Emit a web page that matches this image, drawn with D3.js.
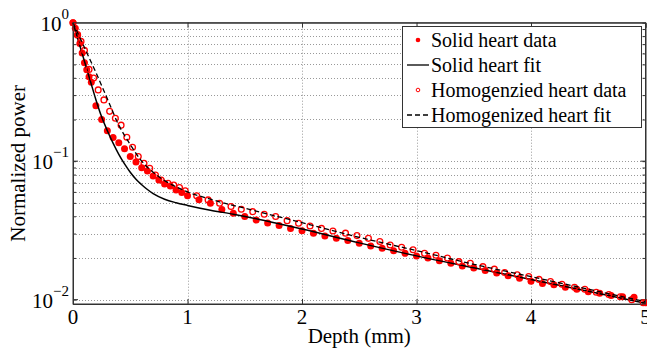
<!DOCTYPE html>
<html>
<head>
<meta charset="utf-8">
<script src="https://cdn.jsdelivr.net/npm/d3@7"></script>
<style>
  body { margin: 0; background: #fff; }
  text { font-family: "Liberation Serif", "Times New Roman", serif; fill: #000; }
</style>
</head>
<body>
<svg id="chart"></svg>
<script>
// solid heart measurements
const solidX = [0, 0.02, 0.04, 0.06, 0.08, 0.10, 0.12, 0.14, 0.16, 0.20, 0.25, 0.30, 0.35, 0.40, 0.45, 0.50,
  0.55, 0.60, 0.65, 0.70, 0.75, 0.80, 0.85, 0.90, 0.95, 1.0, 1.1, 1.2, 1.3, 1.4, 1.5, 1.6, 1.7, 1.8, 1.9,
  2.0, 2.1, 2.2, 2.3, 2.4, 2.5, 2.6, 2.7, 2.8, 2.9, 3.0, 3.1, 3.2, 3.3, 3.4, 3.5, 3.6, 3.7, 3.8, 3.9,
  4.0, 4.1, 4.2, 4.3, 4.4, 4.5, 4.6, 4.7, 4.8, 4.9, 5.0];
const solidY = [1, 0.912, 0.813, 0.708, 0.603, 0.513, 0.457, 0.407, 0.372, 0.251, 0.200, 0.166, 0.148, 0.136, 0.123, 0.108,
  0.0986, 0.0897, 0.0849, 0.0782, 0.0731, 0.0684, 0.0661, 0.0619, 0.0593, 0.0562, 0.0527, 0.0497, 0.0447, 0.0421, 0.0398, 0.0376, 0.0358, 0.0343, 0.0327,
  0.0315, 0.0301, 0.0288, 0.0277, 0.0267, 0.0255, 0.0244, 0.0235, 0.0225, 0.0216, 0.0207, 0.0200, 0.0191, 0.0183, 0.0175, 0.0169, 0.0162, 0.0156, 0.0149, 0.0143,
  0.0136, 0.0131, 0.0128, 0.0123, 0.0119, 0.0114, 0.0111, 0.0107, 0.0105, 0.0104, 0.0095];

// homogenized heart measurements
const homX = [0, 0.04, 0.07, 0.10, 0.14, 0.18, 0.22, 0.27, 0.32, 0.37, 0.42, 0.47, 0.52, 0.57, 0.62, 0.67, 0.72, 0.77, 0.83, 0.88, 0.93, 0.98,
  1.08, 1.18, 1.28, 1.38, 1.47, 1.57, 1.67, 1.77, 1.87, 1.97, 2.07, 2.17, 2.27, 2.38, 2.48, 2.58, 2.68, 2.77, 2.87, 2.97,
  3.07, 3.17, 3.27, 3.37, 3.47, 3.58, 3.68, 3.77, 3.88, 3.98, 4.07, 4.17, 4.27, 4.38, 4.47, 4.57, 4.68, 4.78, 4.88, 4.98];
const homY = [1, 0.822, 0.733, 0.631, 0.46, 0.398, 0.327, 0.277, 0.229, 0.204, 0.182, 0.149, 0.126, 0.108, 0.0966, 0.0889, 0.0794, 0.0731, 0.0692, 0.0673, 0.0646, 0.0612,
  0.0562, 0.0525, 0.0497, 0.0470, 0.0450, 0.0432, 0.0414, 0.0398, 0.0372, 0.0356, 0.0340, 0.0327, 0.0313, 0.0302, 0.0290, 0.0277, 0.0263, 0.0248, 0.0239, 0.0229,
  0.0216, 0.0209, 0.0200, 0.0188, 0.0183, 0.0173, 0.0166, 0.0157, 0.0151, 0.0147, 0.0140, 0.0135, 0.0129, 0.0123, 0.0119, 0.0113, 0.0109, 0.0105, 0.0100, 0.0095];

// fitted curves
const solidFitX = [0, 0.05, 0.1, 0.15, 0.2, 0.25, 0.3, 0.35, 0.4, 0.45, 0.5, 0.55, 0.6, 0.65, 0.7, 0.8, 0.9, 1.0, 1.2, 1.4, 1.6, 1.8, 2.0, 2.5, 3.0, 3.5, 4.0, 4.5, 5.0];
const solidFitY = [1, 0.726, 0.527, 0.383, 0.278, 0.209, 0.166, 0.135, 0.112, 0.0955, 0.0832, 0.0741, 0.0676, 0.0624, 0.0582, 0.0531, 0.0501, 0.0479, 0.0442, 0.0414, 0.0384, 0.0353, 0.0324, 0.0257, 0.0207, 0.0170, 0.0140, 0.0115, 0.0094];
const homFitX = [0, 0.1, 0.2, 0.3, 0.4, 0.5, 0.6, 0.7, 0.8, 0.9, 1.0, 1.2, 1.5, 2.0, 2.5, 3.0, 3.5, 4.0, 4.5, 5.0];
const homFitY = [1, 0.661, 0.437, 0.282, 0.182, 0.132, 0.100, 0.0832, 0.0724, 0.0653, 0.0600, 0.0531, 0.0457, 0.0360, 0.0282, 0.0226, 0.0180, 0.01466, 0.0119, 0.00966];

const xTicks = [0, 1, 2, 3, 4, 5];
const yDecades = [1, 0.1, 0.01];
const yExponents = ["0", "\u22121", "\u22122"];
const legendLabels = ["Solid heart data", "Solid heart fit", "Homogenzied heart data", "Homogenized heart fit"];

const width = 647, height = 352;
const plotL = 73, plotR = 645.5, plotT = 22.7, plotB = 304;

const svg = d3.select("#chart").attr("width", width).attr("height", height);

const x = d3.scaleLinear().domain([0, 5]).range([plotL, plotR]);
const y = d3.scaleLog().domain([0.0093, 1]).range([plotB, plotT]);

// grid
const minorVals = [];
[0.01, 0.1].forEach(d => { for (let k = 1; k <= 9; k++) minorVals.push(d * k); });
const grid = svg.append("g").attr("stroke", "#999").attr("stroke-width", 1).attr("stroke-dasharray", "1,2");
grid.selectAll(".hg").data(minorVals.filter(v => v >= 0.0093 && v < 1)).join("line")
  .attr("x1", plotL).attr("x2", plotR)
  .attr("y1", d => Math.round(y(d)) + 0.5).attr("y2", d => Math.round(y(d)) + 0.5);
grid.selectAll(".vg").data(xTicks.slice(1, -1)).join("line")
  .attr("y1", plotT).attr("y2", plotB)
  .attr("x1", d => Math.round(x(d)) + 0.5).attr("x2", d => Math.round(x(d)) + 0.5);

// axes with inward ticks
const axisColor = "#333";
const yTickVals = minorVals.filter(v => v >= 0.0093);
const xAxisB = d3.axisBottom(x).tickValues(xTicks).tickSize(-5).tickFormat("");
const xAxisT = d3.axisTop(x).tickValues(xTicks).tickSize(-5).tickFormat("");
const yAxisL = d3.axisLeft(y).tickValues(yTickVals).tickSize(-3).tickFormat("");
const yAxisR = d3.axisRight(y).tickValues(yTickVals).tickSize(-3).tickFormat("");
[[xAxisB, `translate(0,${plotB})`], [xAxisT, `translate(0,${plotT})`], [yAxisL, `translate(${plotL},0)`], [yAxisR, `translate(${plotR},0)`]]
  .forEach(([ax, tr]) => {
    const g = svg.append("g").attr("transform", tr).call(ax);
    g.selectAll("path, line").attr("stroke", axisColor);
  });
// longer ticks on decades
svg.append("g").selectAll("line").data(yDecades.slice(1)).join("line")
  .attr("x1", plotL).attr("x2", plotL + 5).attr("y1", d => y(d)).attr("y2", d => y(d)).attr("stroke", axisColor);
svg.append("g").selectAll("line").data(yDecades.slice(1)).join("line")
  .attr("x1", plotR - 5).attr("x2", plotR).attr("y1", d => y(d)).attr("y2", d => y(d)).attr("stroke", axisColor);

// tick labels (the last one runs off the right edge, as in the original)
svg.append("g").selectAll("text").data(xTicks).join("text")
  .attr("x", d => x(d)).attr("y", plotB + 20)
  .attr("text-anchor", "middle").attr("font-size", 21).text(d => d);

const yl = svg.append("g").selectAll("text").data(yDecades).join("text")
  .attr("x", 69).attr("y", d => y(d) + 8)
  .attr("text-anchor", "end").attr("font-size", 21);
yl.append("tspan").text("10");
yl.append("tspan").attr("dy", -12).attr("font-size", 15).text((d, i) => yExponents[i]);

svg.append("text").attr("x", (plotL + plotR) / 2).attr("y", 343)
  .attr("text-anchor", "middle").attr("font-size", 21).text("Depth (mm)");
svg.append("text").attr("transform", `translate(25,${(plotT + plotB) / 2}) rotate(-90)`)
  .attr("text-anchor", "middle").attr("font-size", 21).text("Normalized power");

// data and fits
const solidPts = solidX.map((v, i) => [v, solidY[i]]);
const homPts = homX.map((v, i) => [v, homY[i]]);
const solidFit = solidFitX.map((v, i) => [v, solidFitY[i]]);
const homFit = homFitX.map((v, i) => [v, homFitY[i]]);

const line = d3.line().x(d => x(d[0])).y(d => y(d[1])).curve(d3.curveMonotoneX);

svg.append("g").selectAll("circle").data(solidPts).join("circle")
  .attr("cx", d => x(d[0])).attr("cy", d => y(d[1])).attr("r", 3.5).attr("fill", "#ff0000");

svg.append("path").datum(solidFit).attr("d", line)
  .attr("fill", "none").attr("stroke", "#000").attr("stroke-width", 1.5);

svg.append("g").selectAll("circle").data(homPts).join("circle")
  .attr("cx", d => x(d[0])).attr("cy", d => y(d[1])).attr("r", 2.9)
  .attr("fill", "none").attr("stroke", "#ff0000").attr("stroke-width", 1.3);

svg.append("path").datum(homFit).attr("d", line)
  .attr("fill", "none").attr("stroke", "#000").attr("stroke-width", 1.3).attr("stroke-dasharray", "5,3");

// frame
svg.append("rect").attr("x", plotL).attr("y", plotT).attr("width", plotR - plotL).attr("height", plotB - plotT)
  .attr("fill", "none").attr("stroke", axisColor).attr("stroke-width", 1);

// legend
const lg = svg.append("g");
lg.append("rect").attr("x", 402.5).attr("y", 26.5).attr("width", 239).attr("height", 101)
  .attr("fill", "#fff").attr("stroke", axisColor);
const rowY = [40, 65, 90, 115];
lg.selectAll("text").data(legendLabels).join("text")
  .attr("x", 431).attr("y", (d, i) => rowY[i] + 7).attr("font-size", 20).text(d => d);
lg.append("circle").attr("cx", 418).attr("cy", rowY[0]).attr("r", 2.3).attr("fill", "#ff0000");
lg.append("line").attr("x1", 407).attr("x2", 429).attr("y1", rowY[1]).attr("y2", rowY[1]).attr("stroke", "#000").attr("stroke-width", 1.3);
lg.append("circle").attr("cx", 418).attr("cy", rowY[2]).attr("r", 1.8).attr("fill", "none").attr("stroke", "#ff0000").attr("stroke-width", 1);
lg.append("line").attr("x1", 407).attr("x2", 430).attr("y1", rowY[3]).attr("y2", rowY[3]).attr("stroke", "#000").attr("stroke-width", 1.3).attr("stroke-dasharray", "5,3");
</script>
</body>
</html>
